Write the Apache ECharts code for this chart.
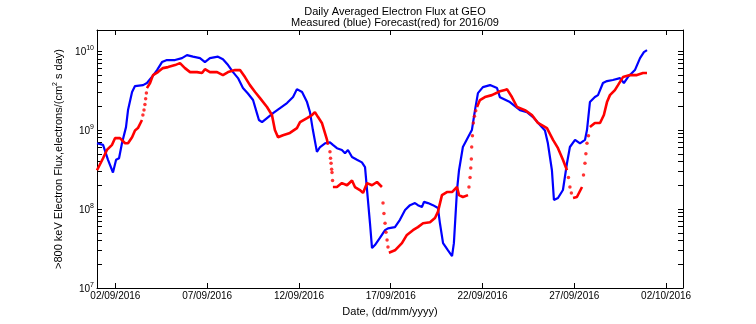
<!DOCTYPE html>
<html><head><meta charset="utf-8">
<script src="https://cdn.jsdelivr.net/npm/echarts@6/dist/echarts.min.js"></script>
<style>html,body{margin:0;padding:0;background:#fff}#c{width:756px;height:324px}</style>
</head><body><div id="c"></div>
<script>
// Measured flux (blue): [day of Sept 2016 (fractional), flux]
const measured = [
[1.00,6.8e8],[1.33,6.5e8],[1.60,4.2e8],[1.87,2.9e8],[2.04,4.2e8],[2.20,4.4e8],[2.36,6.8e8],[2.58,1.09e9],
[2.69,1.79e9],[2.91,3.03e9],[3.07,3.61e9],[3.51,3.71e9],[3.72,3.94e9],[3.99,4.69e9],[4.27,5.75e9],[4.54,7.26e9],
[4.81,7.7e9],[5.25,7.7e9],[5.63,8.15e9],[5.90,8.9e9],[6.23,8.5e9],[6.61,8.15e9],[6.88,7.26e9],[7.15,8.15e9],
[7.59,8.5e9],[7.86,7.9e9],[8.14,6.65e9],[8.41,5.42e9],[8.68,4.55e9],[8.95,3.4e9],[9.22,2.9e9],[9.50,2.4e9],
[9.71,1.64e9],[9.82,1.34e9],[9.99,1.26e9],[10.26,1.42e9],[10.59,1.64e9],[10.97,1.9e9],[11.35,2.2e9],[11.68,2.62e9],
[11.89,3.3e9],[12.17,3.03e9],[12.44,2.26e9],[12.60,1.69e9],[12.76,1.0e9],[12.98,5.3e8],[13.15,6.1e8],[13.42,6.8e8],
[13.69,7.0e8],[13.85,6.5e8],[14.07,5.9e8],[14.34,5.6e8],[14.51,5.1e8],[14.67,5.6e8],[14.89,4.55e8],[15.16,4.2e8],
[15.43,3.9e8],[15.60,3.4e8],[15.71,1.74e8],[15.87,6.6e7],[15.98,3.2e7],[16.14,3.5e7],[16.41,4.3e7],[16.69,5.4e7],
[16.85,5.7e7],[17.23,5.9e7],[17.50,7.3e7],[17.78,9.7e7],[18.05,1.12e8],[18.32,1.19e8],[18.48,1.12e8],[18.70,1.06e8],
[18.81,1.23e8],[19.03,1.19e8],[19.30,1.12e8],[19.57,1.03e8],[19.68,6.6e7],[19.85,3.7e7],[20.12,3.0e7],[20.34,2.54e7],
[20.44,3.7e7],[20.61,1.74e8],[20.72,3.1e8],[20.93,6.1e8],[21.21,8.1e8],[21.42,1.0e9],[21.59,1.79e9],[21.75,2.94e9],
[22.02,3.5e9],[22.41,3.71e9],[22.79,3.4e9],[22.95,2.6e9],[23.49,2.26e9],[24.04,1.79e9],[24.42,1.69e9],[24.75,1.46e9],
[25.13,1.16e9],[25.40,9.9e8],[25.56,6.8e8],[25.78,3.1e8],[25.89,1.3e8],[26.11,1.38e8],[26.38,1.74e8],[26.60,3.8e8],
[26.76,6.1e8],[27.04,7.5e8],[27.31,6.8e8],[27.58,7.5e8],[27.69,1.0e9],[27.85,2.26e9],[28.12,2.62e9],[28.29,2.77e9],
[28.56,3.94e9],[28.78,4.17e9],[29.10,4.3e9],[29.49,4.55e9],[29.70,3.94e9],[29.92,4.69e9],[30.30,5.75e9],[30.58,8.15e9],
[30.79,9.7e9],[30.96,1.03e10]
];
// Forecast flux (red), continuous stretches separated by null
const forecast = [
[1.00,3.1e8],[1.33,4.4e8],[1.54,5.6e8],[1.82,6.5e8],[1.98,7.9e8],[2.25,7.9e8],[2.53,6.8e8],[2.69,6.8e8],
[2.91,8.1e8],[3.07,9.9e8],[3.23,1.06e9],[3.45,1.34e9],null,
[3.72,3.4e9],[3.89,3.94e9],[4.05,4.97e9],[4.32,5.42e9],[4.59,6.09e9],[4.87,6.27e9],[5.25,6.65e9],[5.52,7.05e9],
[5.79,6.09e9],[6.07,5.42e9],[6.45,5.42e9],[6.72,5.27e9],[6.88,5.9e9],[7.15,5.42e9],[7.54,5.42e9],[7.86,4.97e9],
[8.14,5.42e9],[8.52,5.75e9],[8.79,5.75e9],[9.06,4.69e9],[9.33,3.71e9],[9.61,3.03e9],[9.88,2.54e9],[10.26,1.96e9],
[10.53,1.55e9],[10.69,1.0e9],[10.86,8.1e8],[11.13,8.6e8],[11.51,9.2e8],[11.89,1.06e9],[12.06,1.26e9],[12.44,1.42e9],
[12.71,1.55e9],[12.87,1.69e9],[13.04,1.46e9],[13.25,1.23e9],[13.53,7.5e8],[13.58,6.5e8],null,
[13.85,1.9e8],[14.07,1.9e8],[14.34,2.13e8],[14.62,2.0e8],[14.89,2.3e8],[15.05,1.9e8],[15.32,1.74e8],[15.49,1.6e8],
[15.71,2.13e8],[15.98,2.0e8],[16.25,2.2e8],[16.52,1.9e8],null,
[16.90,2.8e7],[17.23,3.0e7],[17.61,3.7e7],[17.88,4.7e7],[18.21,5.4e7],[18.48,5.9e7],[18.76,6.6e7],[19.14,6.8e7],
[19.41,7.7e7],[19.57,9.2e7],[19.79,1.5e8],[20.06,1.64e8],[20.34,1.64e8],[20.61,1.9e8],[20.72,1.5e8],[20.93,1.42e8],
[21.21,1.5e8],null,
[21.70,1.96e9],[21.86,2.4e9],[22.13,2.62e9],[22.51,2.77e9],[22.95,3.1e9],[23.22,3.21e9],[23.33,3.3e9],[23.60,2.62e9],
[23.88,1.96e9],[24.31,1.79e9],[24.69,1.55e9],[25.02,1.23e9],[25.51,1.06e9],[25.84,7.5e8],[26.11,5.9e8],[26.38,4.2e8],
[26.60,3.1e8],null,
[26.93,1.38e8],[27.14,1.42e8],[27.42,1.9e8],null,
[27.85,1.09e9],[28.12,1.23e9],[28.40,1.23e9],[28.61,1.55e9],[28.78,2.26e9],[28.94,2.77e9],[29.21,3.21e9],[29.38,3.71e9],
[29.65,4.69e9],[30.03,4.97e9],[30.41,4.97e9],[30.74,5.27e9],[30.96,5.27e9]
];
// Forecast samples in fast transitions (drawn as separate dots)
const forecastDots = [
[3.50,1.55e9],[3.56,1.8e9],[3.61,2.1e9],[3.65,2.5e9],[3.69,2.95e9],
[13.69,5.3e8],[13.72,4.4e8],[13.75,3.8e8],[13.78,3.2e8],[13.80,2.9e8],[13.83,2.3e8],
[16.58,1.19e8],[16.63,8.8e7],[16.69,6.6e7],[16.74,5.1e7],[16.80,4.05e7],[16.85,3.3e7],
[21.26,1.9e8],[21.32,2.5e8],[21.36,3.3e8],[21.39,4.3e8],[21.41,6.1e8],[21.45,8.5e8],[21.50,1.23e9],[21.56,1.5e9],[21.63,1.75e9],
[26.68,2.5e8],[26.76,1.9e8],[26.84,1.6e8],
[27.50,2.7e8],[27.58,3.8e8],[27.63,5.0e8],[27.69,6.8e8],[27.77,8.5e8]
];
const xTicks = [2,7,12,17,22,27,32];
const yMajor = [1e7,1e8,1e9,1e10];
const yMinor = [];
for (let e = 7; e <= 10; e++) for (let m = 1; m <= 9; m++) { const v = m * Math.pow(10, e); if (v <= 1.85e10) yMinor.push(v); }

function dayLabel(d) {
  let day = d, mon = '09';
  if (d > 30) { day = d - 30; mon = '10'; }
  return (day < 10 ? '0' : '') + day + '/' + mon + '/2016';
}
const FONT = 'Liberation Sans, Arial, sans-serif';
const chart = echarts.init(document.getElementById('c'));
const xCommon = {
  type: 'value', min: 1, max: 32.92,
  axisLine: { onZero: false, lineStyle: { color: '#000', width: 1 } },
  axisTick: { inside: true, length: 5, customValues: xTicks, lineStyle: { color: '#000' } },
  splitLine: { show: false }
};
const yCommon = {
  type: 'log', logBase: 10, min: 1e7, max: 1.85e10,
  axisLine: { show: true, lineStyle: { color: '#000', width: 1 } },
  axisTick: { inside: true, length: 5, customValues: yMinor, lineStyle: { color: '#000' } },
  splitLine: { show: false }, minorTick: { show: false }
};
chart.setOption({
  animation: false,
  backgroundColor: '#fff',
  title: {
    text: 'Daily Averaged Electron Flux at GEO\nMeasured (blue) Forecast(red) for 2016/09',
    left: 390, top: 1, textAlign: 'center',
    textStyle: { fontFamily: FONT, fontSize: 11, fontWeight: 'normal', color: '#000', lineHeight: 11 }
  },
  grid: { left: 97, right: 73, top: 30, bottom: 36 },
  xAxis: [
    Object.assign({}, xCommon, {
      position: 'bottom',
      name: 'Date, (dd/mm/yyyy)', nameLocation: 'middle', nameGap: 18,
      nameTextStyle: { fontFamily: FONT, fontSize: 11, color: '#000' },
      axisLabel: { customValues: xTicks, formatter: dayLabel, margin: 3, fontFamily: FONT, fontSize: 10, color: '#000' }
    }),
    Object.assign({}, xCommon, { position: 'top', axisLabel: { show: false } })
  ],
  yAxis: [
    Object.assign({}, yCommon, {
      position: 'left',
      name: '>800 keV Electron Flux,electrons/(cm{s|2} s day)', nameLocation: 'middle', nameGap: 26,
      nameTextStyle: { fontFamily: FONT, fontSize: 11, color: '#000',
        rich: { s: { fontFamily: FONT, fontSize: 7, padding: [0, 0, 7, 0], verticalAlign: 'bottom', color: '#000' } } },
      axisLabel: {
        customValues: yMajor, margin: 3, color: '#000',
        formatter: v => '{b|10}{e|' + Math.round(Math.log10(v)) + '}',
        rich: {
          b: { fontFamily: FONT, fontSize: 10, color: '#000', verticalAlign: 'bottom' },
          e: { fontFamily: FONT, fontSize: 7, color: '#000', verticalAlign: 'bottom', padding: [0, 0, 6, 0] }
        }
      }
    }),
    Object.assign({}, yCommon, { position: 'right', axisLabel: { show: false } })
  ],
  series: [
    { type: 'line', data: measured, xAxisIndex: 0, yAxisIndex: 0, showSymbol: false, symbol: 'none',
      lineStyle: { color: '#0000ff', width: 2.2 }, z: 2 },
    { type: 'line', data: forecast, xAxisIndex: 0, yAxisIndex: 0, showSymbol: false, symbol: 'none', connectNulls: false,
      lineStyle: { color: '#ff0000', width: 2.6 }, z: 3 },
    { type: 'scatter', data: forecastDots, xAxisIndex: 0, yAxisIndex: 0, symbol: 'circle', symbolSize: 3.5,
      itemStyle: { color: '#ff0000' }, z: 3 }
  ]
});
</script></body></html>
